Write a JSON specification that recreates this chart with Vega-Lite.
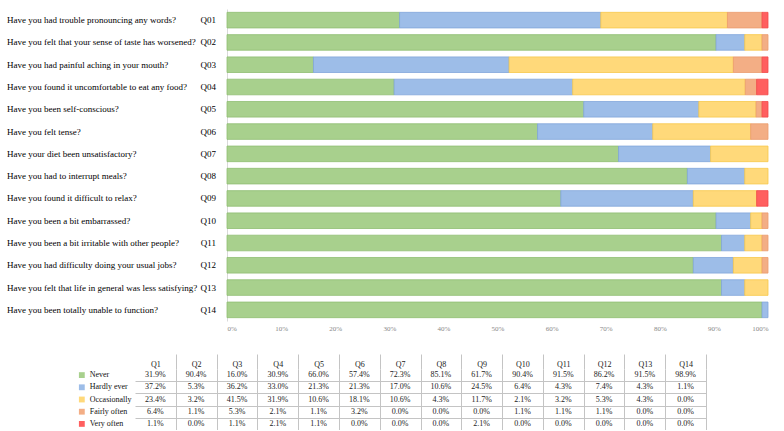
{
  "$schema": "https://vega.github.io/schema/vega-lite/v6.json",
  "padding": {"left": 7, "top": 9, "right": 0, "bottom": 0},
  "background": "#ffffff",
  "config": {"view": {"stroke": null}, "font": "Liberation Serif"},
  "datasets": {
    "qs": [
      {"q": "Q1", "code": "Q01", "question": "Have you had trouble pronouncing any words?"},
      {"q": "Q2", "code": "Q02", "question": "Have you felt that your sense of taste has worsened?"},
      {"q": "Q3", "code": "Q03", "question": "Have you had painful aching in your mouth?"},
      {"q": "Q4", "code": "Q04", "question": "Have you found it uncomfortable to eat any food?"},
      {"q": "Q5", "code": "Q05", "question": "Have you been self-conscious?"},
      {"q": "Q6", "code": "Q06", "question": "Have you felt tense?"},
      {"q": "Q7", "code": "Q07", "question": "Have your diet been unsatisfactory?"},
      {"q": "Q8", "code": "Q08", "question": "Have you had to interrupt meals?"},
      {"q": "Q9", "code": "Q09", "question": "Have you found it difficult to relax?"},
      {"q": "Q10", "code": "Q10", "question": "Have you been a bit embarrassed?"},
      {"q": "Q11", "code": "Q11", "question": "Have you been a bit irritable with other people?"},
      {"q": "Q12", "code": "Q12", "question": "Have you had difficulty doing your usual jobs?"},
      {"q": "Q13", "code": "Q13", "question": "Have you felt that life in general was less satisfying?"},
      {"q": "Q14", "code": "Q14", "question": "Have you been totally unable to function?"}
    ],
    "vals": [
      {"q": "Q1", "cat": "Never", "o": 0, "v": 0.319}, {"q": "Q1", "cat": "Hardly ever", "o": 1, "v": 0.372}, {"q": "Q1", "cat": "Occasionally", "o": 2, "v": 0.234}, {"q": "Q1", "cat": "Fairly often", "o": 3, "v": 0.064}, {"q": "Q1", "cat": "Very often", "o": 4, "v": 0.011},
      {"q": "Q2", "cat": "Never", "o": 0, "v": 0.904}, {"q": "Q2", "cat": "Hardly ever", "o": 1, "v": 0.053}, {"q": "Q2", "cat": "Occasionally", "o": 2, "v": 0.032}, {"q": "Q2", "cat": "Fairly often", "o": 3, "v": 0.011}, {"q": "Q2", "cat": "Very often", "o": 4, "v": 0.0},
      {"q": "Q3", "cat": "Never", "o": 0, "v": 0.16}, {"q": "Q3", "cat": "Hardly ever", "o": 1, "v": 0.362}, {"q": "Q3", "cat": "Occasionally", "o": 2, "v": 0.415}, {"q": "Q3", "cat": "Fairly often", "o": 3, "v": 0.053}, {"q": "Q3", "cat": "Very often", "o": 4, "v": 0.011},
      {"q": "Q4", "cat": "Never", "o": 0, "v": 0.309}, {"q": "Q4", "cat": "Hardly ever", "o": 1, "v": 0.33}, {"q": "Q4", "cat": "Occasionally", "o": 2, "v": 0.319}, {"q": "Q4", "cat": "Fairly often", "o": 3, "v": 0.021}, {"q": "Q4", "cat": "Very often", "o": 4, "v": 0.021},
      {"q": "Q5", "cat": "Never", "o": 0, "v": 0.66}, {"q": "Q5", "cat": "Hardly ever", "o": 1, "v": 0.213}, {"q": "Q5", "cat": "Occasionally", "o": 2, "v": 0.106}, {"q": "Q5", "cat": "Fairly often", "o": 3, "v": 0.011}, {"q": "Q5", "cat": "Very often", "o": 4, "v": 0.011},
      {"q": "Q6", "cat": "Never", "o": 0, "v": 0.574}, {"q": "Q6", "cat": "Hardly ever", "o": 1, "v": 0.213}, {"q": "Q6", "cat": "Occasionally", "o": 2, "v": 0.181}, {"q": "Q6", "cat": "Fairly often", "o": 3, "v": 0.032}, {"q": "Q6", "cat": "Very often", "o": 4, "v": 0.0},
      {"q": "Q7", "cat": "Never", "o": 0, "v": 0.723}, {"q": "Q7", "cat": "Hardly ever", "o": 1, "v": 0.17}, {"q": "Q7", "cat": "Occasionally", "o": 2, "v": 0.106}, {"q": "Q7", "cat": "Fairly often", "o": 3, "v": 0.0}, {"q": "Q7", "cat": "Very often", "o": 4, "v": 0.0},
      {"q": "Q8", "cat": "Never", "o": 0, "v": 0.851}, {"q": "Q8", "cat": "Hardly ever", "o": 1, "v": 0.106}, {"q": "Q8", "cat": "Occasionally", "o": 2, "v": 0.043}, {"q": "Q8", "cat": "Fairly often", "o": 3, "v": 0.0}, {"q": "Q8", "cat": "Very often", "o": 4, "v": 0.0},
      {"q": "Q9", "cat": "Never", "o": 0, "v": 0.617}, {"q": "Q9", "cat": "Hardly ever", "o": 1, "v": 0.245}, {"q": "Q9", "cat": "Occasionally", "o": 2, "v": 0.117}, {"q": "Q9", "cat": "Fairly often", "o": 3, "v": 0.0}, {"q": "Q9", "cat": "Very often", "o": 4, "v": 0.021},
      {"q": "Q10", "cat": "Never", "o": 0, "v": 0.904}, {"q": "Q10", "cat": "Hardly ever", "o": 1, "v": 0.064}, {"q": "Q10", "cat": "Occasionally", "o": 2, "v": 0.021}, {"q": "Q10", "cat": "Fairly often", "o": 3, "v": 0.011}, {"q": "Q10", "cat": "Very often", "o": 4, "v": 0.0},
      {"q": "Q11", "cat": "Never", "o": 0, "v": 0.915}, {"q": "Q11", "cat": "Hardly ever", "o": 1, "v": 0.043}, {"q": "Q11", "cat": "Occasionally", "o": 2, "v": 0.032}, {"q": "Q11", "cat": "Fairly often", "o": 3, "v": 0.011}, {"q": "Q11", "cat": "Very often", "o": 4, "v": 0.0},
      {"q": "Q12", "cat": "Never", "o": 0, "v": 0.862}, {"q": "Q12", "cat": "Hardly ever", "o": 1, "v": 0.074}, {"q": "Q12", "cat": "Occasionally", "o": 2, "v": 0.053}, {"q": "Q12", "cat": "Fairly often", "o": 3, "v": 0.011}, {"q": "Q12", "cat": "Very often", "o": 4, "v": 0.0},
      {"q": "Q13", "cat": "Never", "o": 0, "v": 0.915}, {"q": "Q13", "cat": "Hardly ever", "o": 1, "v": 0.043}, {"q": "Q13", "cat": "Occasionally", "o": 2, "v": 0.043}, {"q": "Q13", "cat": "Fairly often", "o": 3, "v": 0.0}, {"q": "Q13", "cat": "Very often", "o": 4, "v": 0.0},
      {"q": "Q14", "cat": "Never", "o": 0, "v": 0.989}, {"q": "Q14", "cat": "Hardly ever", "o": 1, "v": 0.011}, {"q": "Q14", "cat": "Occasionally", "o": 2, "v": 0.0}, {"q": "Q14", "cat": "Fairly often", "o": 3, "v": 0.0}, {"q": "Q14", "cat": "Very often", "o": 4, "v": 0.0}
    ]
  },
  "spacing": 22,
  "vconcat": [
    {
      "spacing": 0,
      "hconcat": [
        {
          "width": 219,
          "height": 312,
          "data": {"name": "qs"},
          "layer": [
            {
              "mark": {"type": "text", "align": "left", "baseline": "middle", "fontSize": 9, "color": "#000000"},
              "encoding": {
                "y": {"field": "question", "type": "nominal", "sort": ["Have you had trouble pronouncing any words?", "Have you felt that your sense of taste has worsened?", "Have you had painful aching in your mouth?", "Have you found it uncomfortable to eat any food?", "Have you been self-conscious?", "Have you felt tense?", "Have your diet been unsatisfactory?", "Have you had to interrupt meals?", "Have you found it difficult to relax?", "Have you been a bit embarrassed?", "Have you been a bit irritable with other people?", "Have you had difficulty doing your usual jobs?", "Have you felt that life in general was less satisfying?", "Have you been totally unable to function?"], "scale": {"type": "band", "paddingInner": 0.3, "paddingOuter": 0.15}, "axis": null},
                "x": {"datum": 0, "type": "quantitative", "scale": {"domain": [0, 219]}, "axis": null},
                "text": {"field": "question"}
              }
            },
            {
              "mark": {"type": "text", "align": "right", "baseline": "middle", "fontSize": 9, "color": "#000000"},
              "encoding": {
                "y": {"field": "question", "type": "nominal", "sort": ["Have you had trouble pronouncing any words?", "Have you felt that your sense of taste has worsened?", "Have you had painful aching in your mouth?", "Have you found it uncomfortable to eat any food?", "Have you been self-conscious?", "Have you felt tense?", "Have your diet been unsatisfactory?", "Have you had to interrupt meals?", "Have you found it difficult to relax?", "Have you been a bit embarrassed?", "Have you been a bit irritable with other people?", "Have you had difficulty doing your usual jobs?", "Have you felt that life in general was less satisfying?", "Have you been totally unable to function?"], "axis": null},
                "x": {"datum": 210, "type": "quantitative", "axis": null},
                "text": {"field": "code"}
              }
            }
          ]
        },
        {
          "width": 541,
          "height": 312,
          "data": {"name": "vals"},
          "transform": [
            {"lookup": "q", "from": {"data": {"name": "qs"}, "key": "q", "fields": ["question"]}},
            {"filter": {"field": "v", "gt": 0}}
          ],
          "mark": {"type": "bar", "strokeWidth": 0.8},
          "encoding": {
            "y": {
              "field": "question", "type": "nominal",
              "sort": ["Have you had trouble pronouncing any words?", "Have you felt that your sense of taste has worsened?", "Have you had painful aching in your mouth?", "Have you found it uncomfortable to eat any food?", "Have you been self-conscious?", "Have you felt tense?", "Have your diet been unsatisfactory?", "Have you had to interrupt meals?", "Have you found it difficult to relax?", "Have you been a bit embarrassed?", "Have you been a bit irritable with other people?", "Have you had difficulty doing your usual jobs?", "Have you felt that life in general was less satisfying?", "Have you been totally unable to function?"],
              "scale": {"paddingInner": 0.3, "paddingOuter": 0.15},
              "axis": {"title": null, "labels": false, "ticks": false, "domainColor": "#d9d9d9"}
            },
            "x": {
              "field": "v", "type": "quantitative", "stack": "normalize",
              "scale": {"domain": [0, 1]},
              "axis": {"title": null, "format": "%", "values": [0, 0.1, 0.2, 0.3, 0.4, 0.5, 0.6, 0.7, 0.8, 0.9, 1], "grid": false, "ticks": false, "domain": false, "labelFontSize": 7, "labelColor": "#888888", "labelPadding": 3}
            },
            "color": {"field": "cat", "type": "nominal", "scale": {"domain": ["Never", "Hardly ever", "Occasionally", "Fairly often", "Very often"], "range": ["#A8D08D", "#9DBDE8", "#FFD97A", "#F3AE85", "#FF5F5F"]}, "legend": null},
            "stroke": {"field": "cat", "type": "nominal", "scale": {"domain": ["Never", "Hardly ever", "Occasionally", "Fairly often", "Very often"], "range": ["#8FBE72", "#82A6DB", "#F7C84A", "#EB9C6E", "#F24A4A"]}, "legend": null},
            "order": {"field": "o", "type": "quantitative"}
          }
        }
      ]
    },
    {
      "spacing": 0,
      "hconcat": [
        {
          "width": 128,
          "height": 61,
          "data": {"name": "vals"},
          "transform": [{"filter": {"field": "q", "equal": "Q1"}}],
          "layer": [
            {
              "mark": {"type": "point", "shape": "square", "filled": true, "size": 34, "opacity": 1},
              "encoding": {
                "x": {"datum": 76, "type": "quantitative", "scale": {"domain": [0, 128]}, "axis": null},
                "y": {"field": "cat", "type": "nominal", "scale": {"domain": ["Never", "Hardly ever", "Occasionally", "Fairly often", "Very often"], "paddingInner": 0, "paddingOuter": 0}, "axis": null},
                "color": {"field": "cat", "type": "nominal", "scale": {"domain": ["Never", "Hardly ever", "Occasionally", "Fairly often", "Very often"], "range": ["#A8D08D", "#9DBDE8", "#FFD97A", "#F3AE85", "#FF5F5F"]}, "legend": null}
              }
            },
            {
              "mark": {"type": "text", "align": "left", "baseline": "middle", "fontSize": 8, "color": "#111111"},
              "encoding": {
                "x": {"datum": 84, "type": "quantitative"},
                "y": {"field": "cat", "type": "nominal"},
                "text": {"field": "cat"}
              }
            }
          ]
        },
        {
          "width": 571,
          "height": 61,
          "data": {"name": "vals"},
          "mark": {"type": "text", "fontSize": 8, "color": "#222222", "baseline": "middle"},
          "encoding": {
            "x": {"field": "q", "type": "nominal", "scale": {"domain": ["Q1", "Q2", "Q3", "Q4", "Q5", "Q6", "Q7", "Q8", "Q9", "Q10", "Q11", "Q12", "Q13", "Q14"], "paddingInner": 0, "paddingOuter": 0},
              "axis": {"orient": "top", "title": null, "tickBand": "extent", "tickSize": 15, "tickColor": "#c4c4c4", "grid": true, "gridColor": "#c4c4c4", "gridOpacity": {"condition": {"test": "datum.extra", "value": 0}, "value": 1}, "tickOpacity": {"condition": {"test": "datum.extra", "value": 0}, "value": 1}, "domain": false, "labelPadding": -14, "labelAngle": 0, "labelFontSize": 8, "labelColor": "#222222"}},
            "y": {"field": "cat", "type": "nominal", "scale": {"domain": ["Never", "Hardly ever", "Occasionally", "Fairly often", "Very often"], "paddingInner": 0, "paddingOuter": 0},
              "axis": {"title": null, "labels": false, "ticks": false, "domain": false, "grid": true, "tickBand": "extent", "gridColor": "#c4c4c4", "gridOpacity": {"condition": {"test": "datum.extra", "value": 0}, "value": 1}}},
            "text": {"field": "v", "type": "quantitative", "format": ".1%"}
          }
        }
      ]
    }
  ]
}
